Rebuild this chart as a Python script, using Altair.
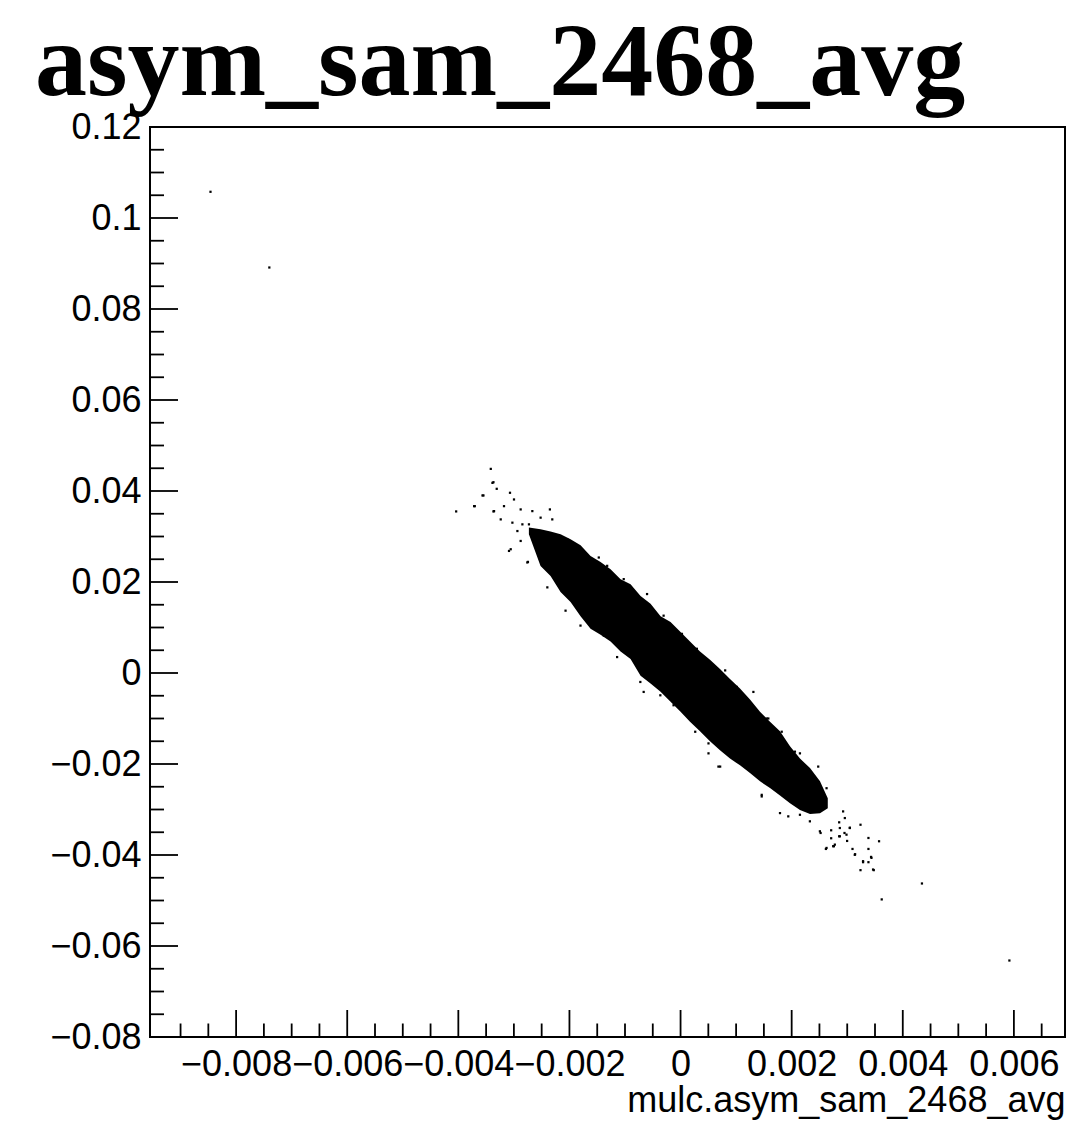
import altair as alt
import pandas as pd

# ---- dense core of the scatter: x, upper edge, lower edge
band_x = [-0.00273, -0.00252, -0.00234, -0.00216, -0.00198, -0.00180, -0.00162,
          -0.00144, -0.00126, -0.00108, -0.00090, -0.00072, -0.00054, -0.00036,
          -0.00018, 0.0, 0.00017, 0.00035, 0.00053, 0.00071, 0.00089, 0.00107,
          0.00125, 0.00143, 0.00161, 0.00179, 0.00197, 0.00215, 0.00233, 0.00251,
          0.00265]
band_upper = [0.0320, 0.0316, 0.0311, 0.0305, 0.0294, 0.0281, 0.0257,
              0.0244, 0.0228, 0.0206, 0.0195, 0.0169, 0.0152, 0.0125,
              0.0112, 0.0090, 0.0069, 0.0047, 0.0029, 0.0009, -0.0013, -0.0034,
              -0.0058, -0.0085, -0.0107, -0.0128, -0.0161, -0.0188, -0.0209, -0.0238,
              -0.0275]
band_lower = [0.0305, 0.0235, 0.0213, 0.0178, 0.0156, 0.0125, 0.0097,
              0.0084, 0.0069, 0.0047, 0.0031, -0.0006, -0.0023, -0.0041,
              -0.0063, -0.0085, -0.0107, -0.0128, -0.0150, -0.0170, -0.0188, -0.0203,
              -0.0220, -0.0238, -0.0253, -0.0269, -0.0286, -0.0301, -0.0310, -0.0308,
              -0.0297]

# ---- scattered points outside the dense core
pts_x = [-0.008461, -0.007402, 0.005919, 0.004345, 0.003621, 0.003239, 0.003382,
         0.003573, 0.003382, 0.003429, 0.003285, 0.003382, 0.003239, 0.003478,
         0.003095, 0.003142, 0.002998, 0.002760, 0.002616, 0.002711, 0.002855,
         0.003047, 0.002951, 0.002855, 0.002711, 0.002521,
         -0.003416, -0.004039, -0.003716, -0.003386, -0.003565, -0.003357,
         -0.003088, -0.002747, -0.000603, 0.000803, 0.001311, 0.000503, 0.000682,
         0.001461, 0.002478, 0.002628, 0.002957, 0.003047, 0.002867, 0.002747,
         0.003136, 0.003285, 0.003436, 0.003465,
         -0.003368, -0.003309, -0.003548, -0.003704, -0.003368, -0.003178,
         -0.003070, -0.002998, -0.002878, -0.003237, -0.003027, -0.002847,
         -0.002937, -0.002668, -0.002519, -0.002352, -0.002309, -0.002729,
         -0.003057, -0.002758, -0.002878, -0.002398, -0.002070, -0.001801,
         -0.002190, -0.002039, -0.001621, -0.001472, -0.001321, -0.001023,
         -0.000305, 0.000025, 0.000294, 0.001013, 0.001551, 0.001821, 0.002059,
         -0.001382, -0.001142, -0.000664, -0.000364, -0.000126, 0.000264,
         0.000503, -0.000724, 0.001580, 0.002149, 0.002359, 0.002628, 0.002926,
         0.000713, 0.001461, 0.001790, 0.001939, 0.002777, 0.002508, 0.002328,
         0.002149, 0.002867, 0.002987]
pts_y = [0.10576, 0.08912, -0.06319, -0.04626, -0.04976, -0.03335, -0.03626,
         -0.03698, -0.03867, -0.04042, -0.04158, -0.04158, -0.04333, -0.04333,
         -0.03867, -0.03983, -0.03691, -0.03807, -0.03867, -0.03632, -0.03589,
         -0.03400, -0.03516, -0.03282, -0.03457, -0.03516,
         0.04486, 0.03551, 0.03667, 0.04179, 0.03902, 0.03558,
         0.02683, 0.02442, 0.01735, 0.00057, -0.00416, -0.01766, -0.02057,
         -0.02713, -0.02057, -0.03845, -0.03188, -0.03407, -0.03589, -0.03807,
         -0.03996, -0.04136, -0.04063, -0.04319,
         0.04193, 0.04048, 0.03902, 0.03667, 0.03551, 0.03667,
         0.03961, 0.03814, 0.03595, 0.03376, 0.03304, 0.03267,
         0.03120, 0.03558, 0.03414, 0.03595, 0.03376, 0.03267,
         0.02720, 0.02429, 0.02902, 0.01882, 0.01370, 0.01042,
         0.03011, 0.02939, 0.02501, 0.02538, 0.02355, 0.02063,
         0.01260, 0.00860, 0.00532, -0.00306, -0.01000, -0.01291, -0.01729,
         0.00823, 0.00350, -0.00416, -0.00490, -0.00709, -0.01291,
         -0.01547, -0.00197, -0.01000, -0.01766, -0.02460, -0.02532, -0.03042,
         -0.02057, -0.02678, -0.03079, -0.03151, -0.03772, -0.03479, -0.03260,
         -0.03116, -0.03407, -0.03553]

# ---- axis ticks
x_major = [-0.008, -0.006, -0.004, -0.002, 0.0, 0.002, 0.004, 0.006]
x_minor = [round(-0.009 + 0.0005 * i, 4) for i in range(32)]
y_major = [-0.08, -0.06, -0.04, -0.02, 0.0, 0.02, 0.04, 0.06, 0.08, 0.10, 0.12]
y_minor = [round(-0.08 + 0.005 * i, 3) for i in range(41)]

X_DOMAIN = [-0.00955, 0.00692]
Y_DOMAIN = [-0.08, 0.12]
W, H = 915, 910

band = pd.DataFrame({"x": band_x, "hi": band_upper, "lo": band_lower})
pts = pd.DataFrame({"x": pts_x, "y": pts_y})
xmaj = pd.DataFrame({"x": x_major})
xmin = pd.DataFrame({"x": [v for v in x_minor if all(abs(v - m) > 1e-9 for m in x_major)]})
ymaj = pd.DataFrame({"y": y_major})
ymin = pd.DataFrame({"y": [v for v in y_minor if all(abs(v - m) > 1e-9 for m in y_major)]})

xs = alt.Scale(domain=X_DOMAIN, nice=False, zero=False)
ys = alt.Scale(domain=Y_DOMAIN, nice=False, zero=False)

x_axis = alt.Axis(values=x_major, format=".2~g", labelOverlap=False, labelFlush=False,
                  labelPadding=10, title="mulc.asym_sam_2468_avg",
                  titleFont="Liberation Sans", titleFontSize=36, titleFontWeight="normal",
                  titleAlign="right", titleAnchor="end", titleBaseline="alphabetic",
                  titleX=915, titleY=74, titleColor="black")
y_axis = alt.Axis(values=y_major, format=".2~g", labelOverlap=False, labelPadding=9, title="")

X = lambda f: alt.X(f, scale=xs, axis=x_axis)
Y = lambda f: alt.Y(f, scale=ys, axis=y_axis)

area = alt.Chart(band).mark_area(color="black", opacity=1, interpolate="linear").encode(
    x=X("x:Q"), y=Y("hi:Q"), y2="lo:Q",
)
points = alt.Chart(pts).mark_square(size=5, color="black", opacity=1).encode(
    x=X("x:Q"), y=Y("y:Q"),
)
xmaj_t = alt.Chart(xmaj).mark_rule(color="black", strokeWidth=1.8).encode(
    x=X("x:Q"), y=alt.value(H), y2=alt.value(H - 27))
xmin_t = alt.Chart(xmin).mark_rule(color="black", strokeWidth=1.8).encode(
    x=X("x:Q"), y=alt.value(H), y2=alt.value(H - 13.5))
ymaj_t = alt.Chart(ymaj).mark_rule(color="black", strokeWidth=1.8).encode(
    y=Y("y:Q"), x=alt.value(0), x2=alt.value(28))
ymin_t = alt.Chart(ymin).mark_rule(color="black", strokeWidth=1.8).encode(
    y=Y("y:Q"), x=alt.value(0), x2=alt.value(14))

chart = alt.layer(area, points, xmaj_t, xmin_t, ymaj_t, ymin_t).properties(
    width=W, height=H,
    title=alt.TitleParams("asym_sam_2468_avg", font="Liberation Serif", fontSize=104,
                          fontWeight="bold", anchor="start", frame="group", dx=-115,
                          dy=8, offset=0, color="black"),
    autosize=alt.AutoSizeParams(type="none"),
    padding={"left": 142, "top": 119, "right": 1, "bottom": 83},
).configure_view(stroke="black", strokeWidth=2).configure_axis(
    domain=False, ticks=False, grid=False, labelFont="Liberation Sans",
    labelFontSize=36, labelColor="black",
)

chart.save("out.html", embed_options={"renderer": "svg", "actions": False})
